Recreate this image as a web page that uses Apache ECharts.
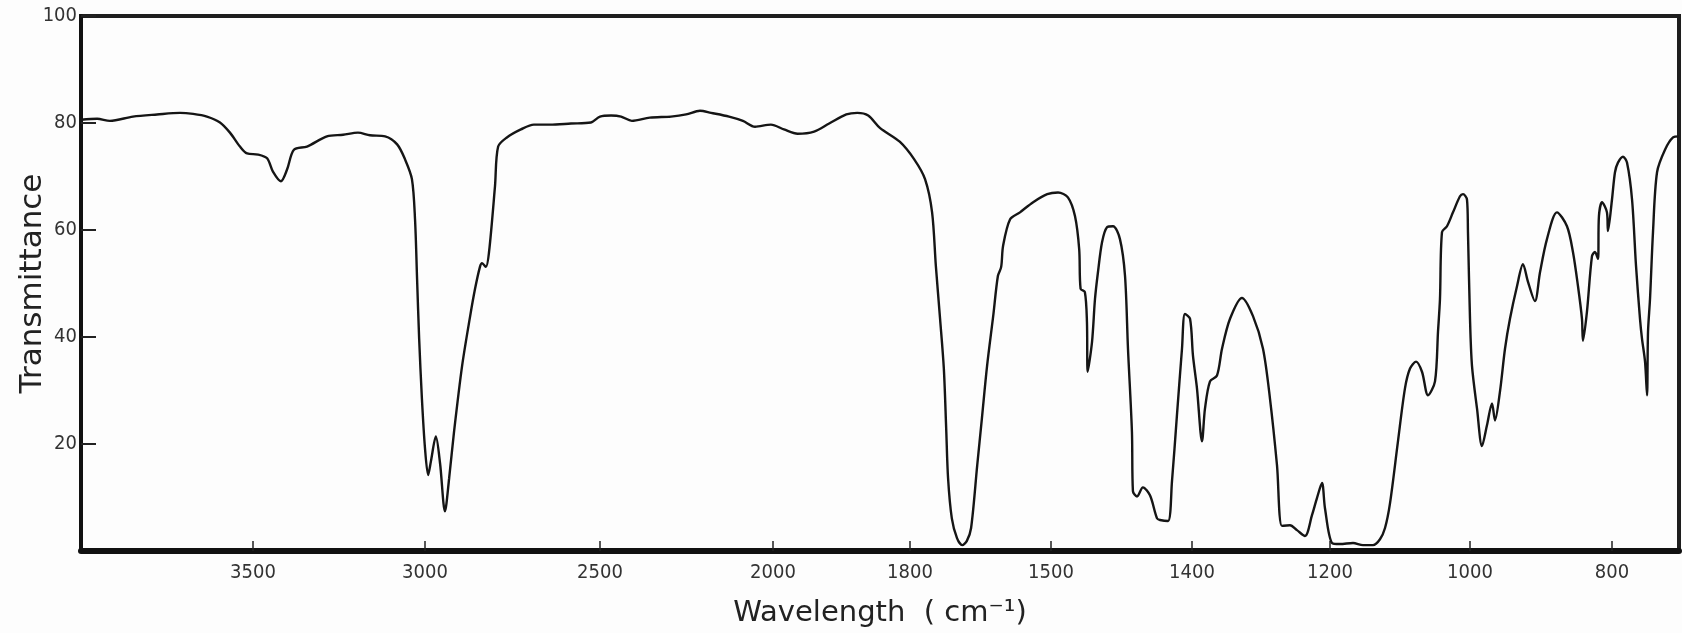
<!DOCTYPE html>
<html><head><meta charset="utf-8">
<script src="https://cdn.jsdelivr.net/npm/echarts@6/dist/echarts.min.js"></script>
<style>html,body{margin:0;padding:0;background:#fdfdfd}#chart{width:1682px;height:633px}</style>
</head><body><div id="chart"></div>
<script>
// Spectrum: wavenumber (cm-1) and transmittance (%)
const wavenumbers = [
  4000,3953,3916,3849,3779,3712,3674,3634,3596,3567,
  3538,3517,3485,3459,3442,3419,3401,3381,3343,3285,
  3238,3195,3160,3116,3081,3058,3038,3029,3023,3017,
  3009,3000,2991,2983,2969,2957,2943,2931,2917,2894,
  2871,2857,2843,2837,2826,2817,2800,2791,2766,2726,
  2689,2643,2583,2526,2500,2468,2439,2408,2356,2295,
  2251,2211,2179,2127,2087,2052,2006,1984,1964,1940,
  1918,1893,1877,1861,1844,1815,1791,1768,1753,1745,
  1736,1728,1723,1719,1711,1700,1689,1679,1670,1657,
  1647,1636,1623,1613,1606,1602,1587,1566,1538,1508,
  1495,1488,1483,1480,1479,1476,1474.5,1474,1470.9,1468.8,
  1466.7,1463.8,1460.3,1456.0,1451.1,1447.5,1445.4,1442.6,1441.9,1439.0,
  1434.8,1429.8,1424.8,1422.7,1417.0,1414.2,1410.7,1407.1,1405.0,1401.4,
  1398.6,1392.8,1385.5,1381.2,1373.9,1363.8,1356.5,1344.9,1327.6,1311.6,
  1297.1,1287.0,1276.8,1269.6,1258.0,1247.9,1236.3,1226.1,1218.9,1211.6,
  1207.3,1197.1,1185.7,1167.1,1152.9,1138.6,1128.6,1121.4,1114.3,1102.9,
  1092.9,1085.7,1077.1,1068.6,1060.0,1050.0,1045.7,1042.9,1040.0,1032.9,
  1024.3,1014.3,1010.0,1004.3,1002.9,1000,997.2,990.1,983.1,976.1,
  969.0,964.8,957.8,950.7,943.7,933.8,925.4,918.3,908.5,901.4,
  891.6,877.5,863.4,855.0,847.9,842.3,840.9,835.3,828.2,824.0,
  819.8,818.4,814.1,807.1,805.7,800,795.8,791.6,784.5,778.9,
  771.8,766.2,760.6,757.8,753.5,750.7,749.3,746.5,742.3,736.6,
  725.4,714.1,705.7
];
const transmittance = [
  80.6,80.8,80.4,81.2,81.6,81.9,81.7,81.2,80.1,78.2,
  75.6,74.3,74.1,73.4,70.9,69.1,71.3,75.0,75.6,77.5,
  77.8,78.2,77.7,77.5,76.0,73.2,69.5,62.0,50.8,39.7,
  28.5,19.2,14.2,16.8,21.4,16.4,7.4,13.6,22.3,34.6,
  43.9,49.0,53.1,53.8,53.1,55.9,68.2,75.6,77.3,78.8,
  79.7,79.7,79.9,80.1,81.2,81.4,81.2,80.4,81.0,81.2,
  81.6,82.3,81.9,81.2,80.4,79.3,79.7,78.8,78.0,78.4,
  79.9,81.6,81.9,81.4,79.1,76.5,73.2,69.5,63.3,53.3,
  43.4,34.1,22.9,13.6,6.1,2.4,1.1,1.9,4.3,16.0,
  24.8,34.6,43.9,51.4,53.1,57.0,62.0,63.3,65.2,66.7,
  67.0,66.1,62.6,56.4,49.0,48.4,42.8,33.5,39.1,47.1,
  52.1,57.7,60.5,60.7,58.3,51.4,37.8,22.3,11.2,10.2,
  11.9,10.4,6.1,5.8,5.6,13.0,25.3,37.8,44.3,43.4,
  36.5,30.4,20.5,26.6,31.7,32.8,37.8,43.4,47.3,43.9,
  37.8,28.5,16.0,4.7,4.8,3.9,2.8,6.7,9.9,12.7,
  8.0,1.5,1.3,1.5,1.1,1.1,2.2,4.3,8.9,20.5,
  30.4,34.1,35.4,33.5,29.1,31.7,41.0,47.1,59.6,60.7,
  63.3,66.3,66.7,65.7,59.6,43.4,34.6,26.6,19.6,23.5,
  27.6,24.4,29.8,37.8,43.4,49.5,53.6,50.3,46.7,52.1,
  58.3,63.3,60.7,55.9,49.5,43.4,39.3,44.7,55.1,55.9,
  54.6,62.6,65.2,63.3,59.8,65.7,70.8,72.6,73.7,72.6,
  65.7,53.3,43.4,39.7,35.4,29.1,41.0,47.1,59.6,70.8,
  75.0,77.3,77.5
];
const xTickLabels = [3500,3000,2500,2000,1800,1500,1400,1200,1000,800];
const yTickLabels = [20,40,60,80,100];

// The printed wavenumber axis is piecewise linear (stretched below 2000 cm-1).
const scaleWavenumbers = [4000,3500,3000,2500,2000,1800,1500,1400,1200,1000,800,705.7];
const scaleUnits       = [0,172,344,519,692,829,970,1111,1249,1389,1531,1598];

function toAxis(w){
  for (let i = 0; i < scaleWavenumbers.length - 1; i++){
    const a = scaleWavenumbers[i], b = scaleWavenumbers[i+1];
    if (w <= a && w >= b){
      return scaleUnits[i] + (a - w) / (a - b) * (scaleUnits[i+1] - scaleUnits[i]);
    }
  }
  return w > scaleWavenumbers[0] ? scaleUnits[0] : scaleUnits[scaleUnits.length-1];
}

const n = Math.min(wavenumbers.length, transmittance.length);
const seriesData = [];
for (let i = 0; i < n; i++) seriesData.push([toAxis(wavenumbers[i]), transmittance[i]]);
const xTickPos = xTickLabels.map(toAxis);

const labelFont = "'DejaVu Sans Condensed','Liberation Sans Narrow','DejaVu Sans',sans-serif";

const chart = echarts.init(document.getElementById('chart'), null, {renderer:'canvas'});
chart.setOption({
  animation: false,
  backgroundColor: '#fdfdfd',
  grid: {left: 81, right: 3, top: 16, bottom: 80, show: true, borderColor: '#1e1e1e', borderWidth: 4, backgroundColor: 'transparent'},
  xAxis: {
    type: 'value', min: scaleUnits[0], max: scaleUnits[scaleUnits.length-1],
    name: 'Wavelength  ( cm⁻¹)', nameLocation: 'middle', nameGap: 48, nameMoveOverlap: false,
    nameTextStyle: {fontFamily: "'DejaVu Sans',sans-serif", fontSize: 29, color: '#222'},
    axisLine: {show: true, onZero: false, lineStyle: {color: '#111', width: 6}},
    axisTick: {show: true, inside: true, length: 10, customValues: xTickPos, lineStyle: {color: '#222', width: 1.5}},
    axisLabel: {
      customValues: xTickPos, margin: 12, fontFamily: labelFont, fontSize: 20, color: '#333',
      formatter: function(v){
        let best = 0, bd = Infinity;
        xTickPos.forEach((p, i) => { const d = Math.abs(p - v); if (d < bd){ bd = d; best = i; } });
        return String(xTickLabels[best]);
      }
    },
    splitLine: {show: false}
  },
  yAxis: {
    type: 'value', min: 0, max: 100, interval: 20,
    name: 'Transmittance', nameLocation: 'middle', nameGap: 33, nameMoveOverlap: false,
    nameTextStyle: {fontFamily: "'DejaVu Sans',sans-serif", fontSize: 31, color: '#222'},
    axisLine: {show: true, lineStyle: {color: '#111', width: 4}},
    axisTick: {show: true, inside: true, length: 15, customValues: yTickLabels, lineStyle: {color: '#222', width: 2}},
    axisLabel: {customValues: yTickLabels, margin: 4, fontFamily: labelFont, fontSize: 20, color: '#333'},
    splitLine: {show: false}
  },
  series: [{
    type: 'line', data: seriesData, showSymbol: false, smooth: 0.3,
    lineStyle: {color: '#151515', width: 2.4}
  }]
});
</script></body></html>
